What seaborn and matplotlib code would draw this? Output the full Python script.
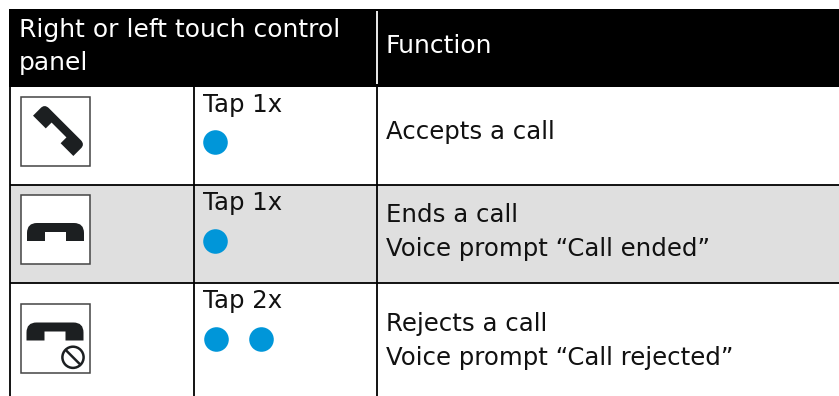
import matplotlib
matplotlib.use("Agg")
import matplotlib.pyplot as plt
import pandas as pd
import seaborn as sns
from matplotlib.patches import Circle, PathPatch, Rectangle
from matplotlib.path import Path
from matplotlib.transforms import Affine2D

header_left = ["Right or left touch control", "panel"]
header_right = ["Function"]
tap_labels = ["Tap 1x", "Tap 1x", "Tap 2x"]
tap_counts = [1, 1, 2]
function_labels = [
    ["Accepts a call"],
    ["Ends a call", "Voice prompt “Call ended”"],
    ["Rejects a call", "Voice prompt “Call rejected”"],
]

# layout, in pixels of the 839x396 picture
W, H = 839, 396
row_edges = [87, 185, 283, 396]
row_fill = ["white", "#dfdfdf", "white"]
col_lines = [10, 193.5, 377]
box_tops = [97, 195, 304]
dot_y = [142, 241, 339]
dot_x0 = [215, 215, 216]
dot_gap = 45
tap_base = [112, 210, 308]
func_base = [[139], [222, 256], [331, 365]]
FS = 17.6
FS_HEAD = 18
BLUE = "#0096d9"
INK = "#1c1f21"

sns.set_theme(style="white")
plt.rcParams["font.family"] = ["DejaVu Sans"]

fig = plt.figure(figsize=(W / 100, H / 100), dpi=100)
ax = fig.add_axes([0, 0, 1, 1])
ax.set_xlim(0, W)
ax.set_ylim(H, 0)
ax.axis("off")

# header band and row backgrounds
ax.add_patch(Rectangle((9, 9), W - 9, 78, fc="black", ec="none", zorder=1))
for i, fill in enumerate(row_fill):
    ax.add_patch(Rectangle((10, row_edges[i]), W - 10, row_edges[i + 1] - row_edges[i], fc=fill, ec="none", zorder=1))
for y in row_edges[1:3]:
    ax.plot([10, W], [y, y], color="black", lw=1.3, zorder=2, solid_capstyle="butt")
for x in col_lines:
    ax.plot([x, x], [87, H], color="black", lw=1.3, zorder=2, solid_capstyle="butt")
ax.plot([377, 377], [11, 84], color="white", lw=1.3, zorder=3, solid_capstyle="butt")


def handset(r=10):
    verts = [(0, 18), (0, r), (0, 0), (r, 0), (57 - r, 0), (57, 0), (57, r), (57, 18),
             (39, 18), (39, 9), (18, 9), (18, 18), (0, 18)]
    codes = [Path.MOVETO, Path.LINETO, Path.CURVE3, Path.CURVE3, Path.LINETO, Path.CURVE3,
             Path.CURVE3, Path.LINETO, Path.LINETO, Path.LINETO, Path.LINETO, Path.LINETO,
             Path.CLOSEPOLY]
    return Path(verts, codes)


for top in box_tops:
    ax.add_patch(Rectangle((21, top), 69, 69, fc="white", ec="#444444", lw=1.1, zorder=3))

placements = [
    (6, Affine2D().scale(1, 16.5 / 18).rotate_deg(45).translate(44.7, 104)),
    (10, Affine2D().translate(27, 223)),
    (10, Affine2D().translate(26.5, 322.5)),
]
for r, tr in placements:
    ax.add_patch(PathPatch(handset(r).transformed(tr), fc=INK, ec="none", zorder=4))

# prohibition sign on the reject icon
ax.add_patch(Circle((73, 357.3), 10.6, fc="none", ec=INK, lw=1.8, zorder=4))
ax.plot([65.5, 80.5], [349.8, 364.8], color=INK, lw=1.8, zorder=4, solid_capstyle="butt")

# tap dots
dots = pd.DataFrame(
    [{"row": r, "tap": t, "x": dot_x0[r] + t * dot_gap, "y": dot_y[r]}
     for r, n in enumerate(tap_counts) for t in range(n)]
)
sns.scatterplot(data=dots, x="x", y="y", color=BLUE, s=313, linewidth=0, legend=False, ax=ax, zorder=5)
ax.set_xlim(0, W)
ax.set_ylim(H, 0)
ax.axis("off")

# text
for label, y in zip(header_left, [37, 70]):
    ax.text(19, y, label, color="white", fontsize=FS_HEAD, va="baseline", zorder=6)
ax.text(386, 53, header_right[0], color="white", fontsize=FS_HEAD, va="baseline", zorder=6)
for label, y in zip(tap_labels, tap_base):
    ax.text(203, y, label, color="#111111", fontsize=FS, va="baseline", zorder=6)
for lines, ys in zip(function_labels, func_base):
    for label, y in zip(lines, ys):
        ax.text(386, y, label, color="#111111", fontsize=FS, va="baseline", zorder=6)

fig.savefig("out.png", dpi=100)
